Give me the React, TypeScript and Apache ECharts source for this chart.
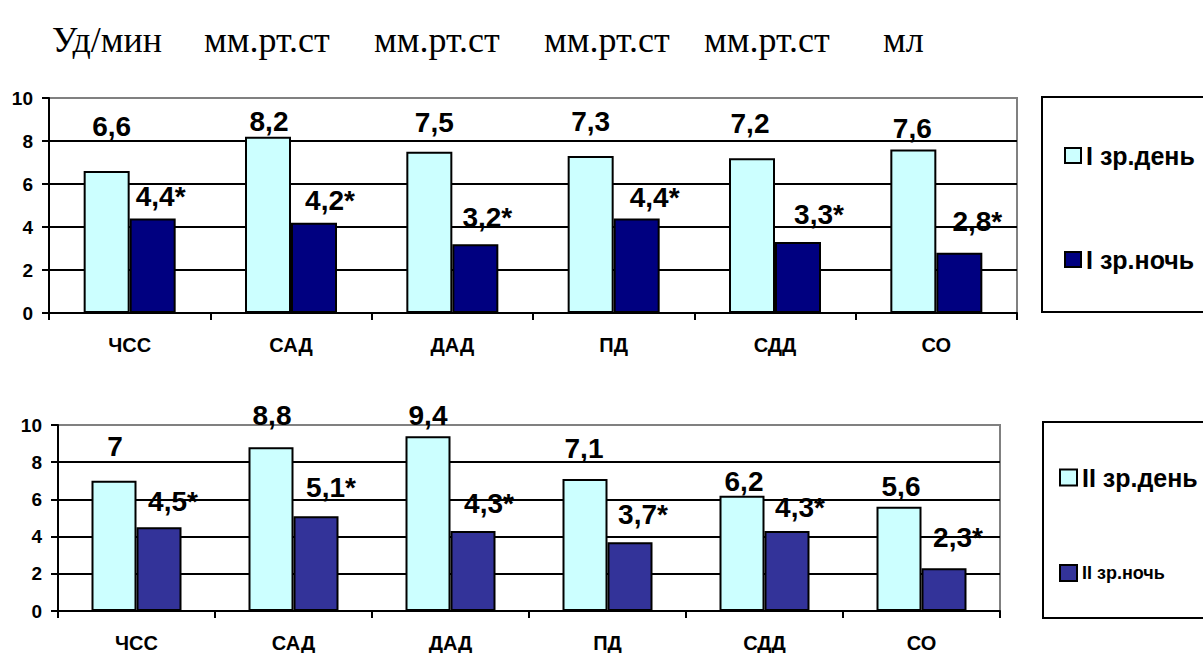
import React, { useEffect, useRef } from "react";
import * as echarts from "echarts";

const categories = ["ЧСС", "САД", "ДАД", "ПД", "СДД", "СО"];
const day1 = [6.6, 8.2, 7.5, 7.3, 7.2, 7.6];
const night1 = [4.4, 4.2, 3.2, 4.4, 3.3, 2.8];
const day2 = [7, 8.8, 9.4, 7.1, 6.2, 5.6];
const night2 = [4.5, 5.1, 4.3, 3.7, 4.3, 2.3];
const seriesNames = ["I зр.день", "I зр.ночь", "II зр.день", "II зр.ночь"];
const units = ["Уд/мин", "мм.рт.ст", "мм.рт.ст", "мм.рт.ст", "мм.рт.ст", "мл"];

// label offsets (style only): [dx, dy] from bar top-center
const offDay1 = [[5, -45], [1, -15], [5, -29], [0, -35], [-2, -35], [-1, -21]];
const offNight1 = [[8, -22], [16, -22], [12, -27], [18, -21], [21, -28], [18, -31]];
const offDay2 = [[1, -34], [1, -32], [0, -21], [-1, -30], [2, -14], [2, -20]];
const offNight2 = [[14, -26], [15, -29], [16, -28], [13, -28], [13, -24], [14, -31]];
const unitX = [52, 204, 374, 544, 704, 883];

const FONT = "'Liberation Sans', Arial, sans-serif";
const SERIF = "'Liberation Serif', 'Times New Roman', serif";

const fmt = (v: number) => String(v).replace(".", ",");

function mkData(vals: number[], offs: number[][], star: boolean) {
  return vals.map((v, i) => ({
    value: v,
    label: {
      offset: offs[i],
      formatter: fmt(v) + (star ? "*" : ""),
    },
  }));
}

const baseLabel = {
  show: true,
  position: ["50%", 0],
  align: "center",
  verticalAlign: "middle",
  fontFamily: FONT,
  fontWeight: "bold",
  fontSize: 28,
  color: "#000",
};

function xAxis(gridIndex: number) {
  return {
    type: "category",
    gridIndex,
    data: categories,
    boundaryGap: true,
    axisLine: { show: true, lineStyle: { color: "#000", width: 2 } },
    axisTick: { show: true, interval: 0, length: 7, lineStyle: { color: "#000", width: 2 } },
    axisLabel: {
      interval: 0,
      margin: 22,
      fontFamily: FONT,
      fontWeight: "bold",
      fontSize: 20,
      color: "#000",
    },
    splitLine: { show: false },
  };
}

function yAxis(gridIndex: number) {
  return {
    type: "value",
    gridIndex,
    min: 0,
    max: 10,
    interval: 2,
    axisLine: { show: true, lineStyle: { color: "#000", width: 2 } },
    axisTick: { show: true, length: 7, lineStyle: { color: "#000", width: 2 } },
    axisLabel: {
      margin: 16,
      fontFamily: FONT,
      fontWeight: "bold",
      fontSize: 19,
      color: "#000",
    },
    splitLine: {
      show: true,
      showMaxLine: false,
      showMinLine: false,
      lineStyle: { color: "#000", width: 2 },
    },
  };
}

export default function App() {
  const ref = useRef<HTMLDivElement>(null);
  useEffect(() => {
    if (!ref.current) return;
    const chart = echarts.init(ref.current, null, { renderer: "svg" });
    const option: any = {
      animation: false,
      backgroundColor: "#fff",
      grid: [
        { left: 49, top: 98, width: 968, height: 215, show: true, borderColor: "#808080", borderWidth: 2 },
        { left: 58, top: 425, width: 942, height: 186, show: true, borderColor: "#808080", borderWidth: 2 },
      ],
      xAxis: [xAxis(0), xAxis(1)],
      yAxis: [yAxis(0), yAxis(1)],
      legend: [
        {
          left: 1059,
          top: 138,
          orient: "vertical",
          itemWidth: 16,
          itemHeight: 15,
          itemGap: 79,
          icon: "rect",
          selectedMode: false,
          data: [seriesNames[0], seriesNames[1]],
          itemStyle: { borderColor: "#000", borderWidth: 2 },
          textStyle: { fontFamily: FONT, fontWeight: "bold", fontSize: 25, color: "#000" },
        },
        {
          left: 1054,
          top: 460,
          orient: "vertical",
          itemWidth: 17,
          itemHeight: 16,
          itemGap: 74,
          icon: "rect",
          selectedMode: false,
          data: [
            { name: seriesNames[2], textStyle: { fontSize: 25 } },
            { name: seriesNames[3], textStyle: { fontSize: 18 } },
          ],
          itemStyle: { borderColor: "#000", borderWidth: 2 },
          textStyle: { fontFamily: FONT, fontWeight: "bold", fontSize: 25, color: "#000" },
        },
      ],
      graphic: [
        {
          type: "rect",
          shape: { x: 1042, y: 97, width: 200, height: 215 },
          style: { fill: "transparent", stroke: "#000", lineWidth: 2 },
          z: 0,
        },
        {
          type: "rect",
          shape: { x: 1043, y: 422, width: 200, height: 196 },
          style: { fill: "transparent", stroke: "#000", lineWidth: 2 },
          z: 0,
        },
        ...units.map((u, i) => ({
          type: "text",
          x: unitX[i],
          y: 40,
          style: {
            text: u,
            fontFamily: SERIF,
            fontSize: 36,
            fill: "#000",
            align: "left",
            verticalAlign: "middle",
          },
        })),
      ],
      series: [
        {
          name: seriesNames[0],
          type: "bar",
          xAxisIndex: 0,
          yAxisIndex: 0,
          barWidth: 46,
          barGap: "0%",
          itemStyle: { color: "#CCFFFF", borderColor: "#000", borderWidth: 2 },
          label: baseLabel,
          data: mkData(day1, offDay1, false),
        },
        {
          name: seriesNames[1],
          type: "bar",
          xAxisIndex: 0,
          yAxisIndex: 0,
          barWidth: 46,
          barGap: "0%",
          itemStyle: { color: "#000080", borderColor: "#000", borderWidth: 2 },
          label: baseLabel,
          data: mkData(night1, offNight1, true),
        },
        {
          name: seriesNames[2],
          type: "bar",
          xAxisIndex: 1,
          yAxisIndex: 1,
          barWidth: 45,
          barGap: "0%",
          itemStyle: { color: "#CCFFFF", borderColor: "#000", borderWidth: 2 },
          label: baseLabel,
          data: mkData(day2, offDay2, false),
        },
        {
          name: seriesNames[3],
          type: "bar",
          xAxisIndex: 1,
          yAxisIndex: 1,
          barWidth: 45,
          barGap: "0%",
          itemStyle: { color: "#333399", borderColor: "#000", borderWidth: 2 },
          label: baseLabel,
          data: mkData(night2, offNight2, true),
        },
      ],
    };
    chart.setOption(option);
    return () => chart.dispose();
  }, []);
  return (
    <div
      ref={ref}
      style={{ position: "absolute", left: 0, top: 0, width: 1203, height: 653 }}
    />
  );
}
